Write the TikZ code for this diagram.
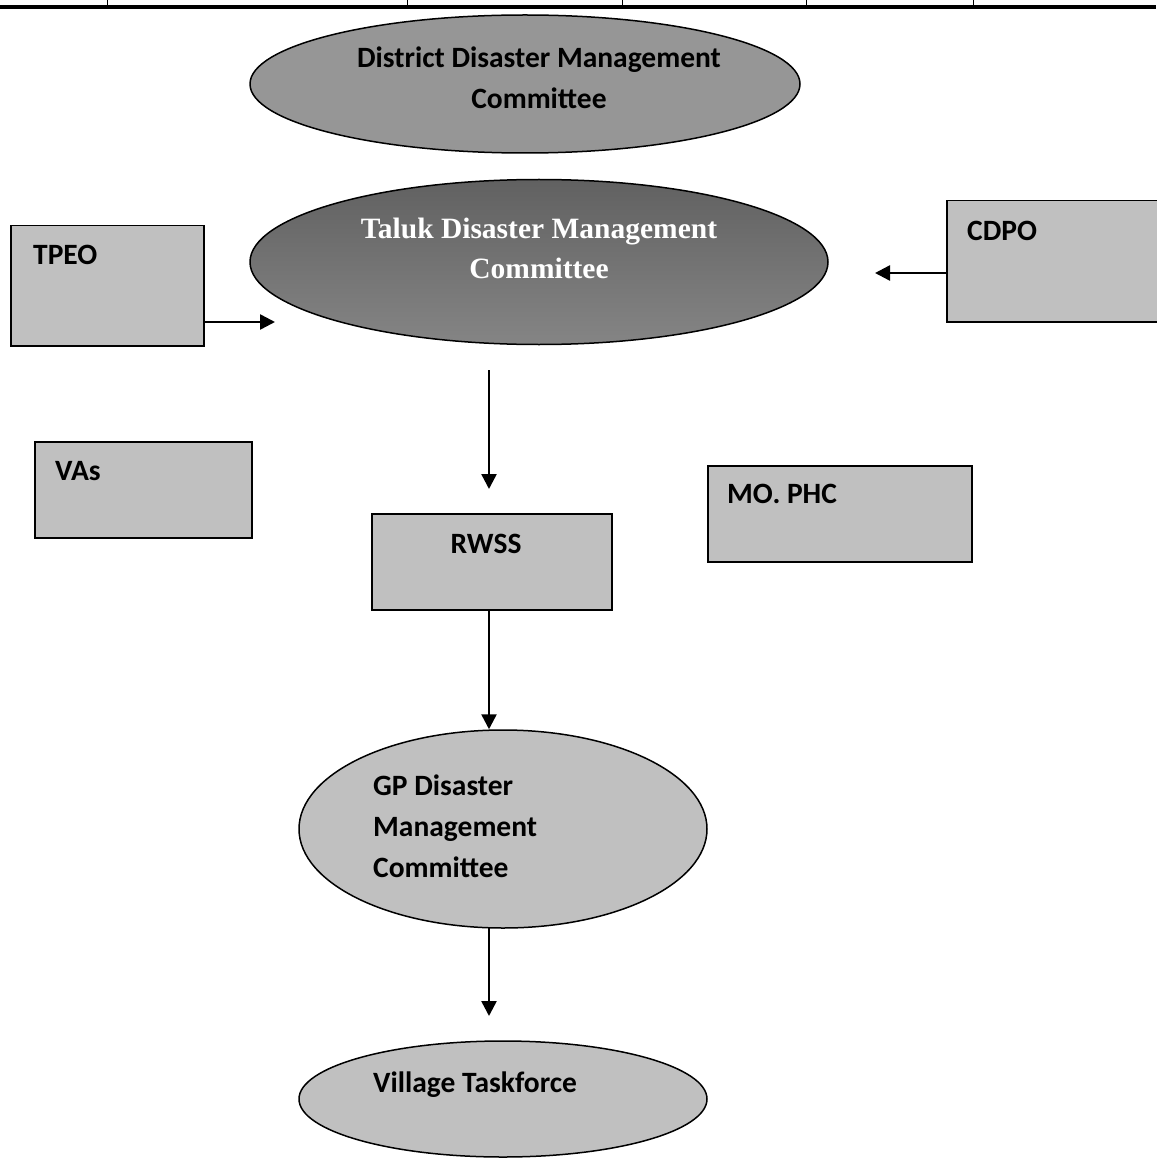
\documentclass[tikz,border=0pt]{standalone}
\usepackage{fontspec}
\setmainfont{Carlito}
\newfontfamily\tnr{Liberation Serif}
\usetikzlibrary{shapes.geometric,arrows.meta}
\definecolor{boxgray}{HTML}{C0C0C0}
\definecolor{distgray}{HTML}{969696}
\tikzset{
  ell/.style={ellipse, draw, line width=1.5pt, inner sep=0pt},
  box/.style={rectangle, draw, line width=1.5pt, fill=boxgray, inner sep=0pt, anchor=north west},
  lbl/.style={font=\bfseries\fontsize{29.5}{41}\selectfont, inner sep=0pt},
  arr/.style={line width=2.5pt, -{Triangle[length=15pt,width=15pt]}},
  tbl/.style={line width=1pt}
}
\begin{document}
\begin{tikzpicture}[x=1pt,y=-1pt]
\useasboundingbox[fill=white] (0,0) rectangle (1156,1158);
% table remnant
\draw[line width=3.5pt] (0,7) -- (1156,7);
\foreach \xx in {107,407,622,806,973} \draw[tbl] (\xx,-2) -- (\xx,7);
% ellipses
\node[ell, fill=distgray, minimum width=550pt, minimum height=138pt] (dist) at (525,84) {};
\node[ell, top color=black!62, bottom color=black!48, minimum width=578pt, minimum height=165pt] (taluk) at (539,262) {};
\node[ell, fill=boxgray, minimum width=408pt, minimum height=198pt] (gp) at (503,829) {};
\node[ell, fill=boxgray, minimum width=408pt, minimum height=116pt] (vill) at (503,1099) {};
% boxes
\node[box, minimum width=193pt, minimum height=120pt] (tpeo) at (10,225) {};
\node[box, minimum width=220pt, minimum height=121pt] (cdpo) at (946,200) {};
\node[box, minimum width=217pt, minimum height=96pt] (vas) at (34,441) {};
\node[box, minimum width=240pt, minimum height=96pt] (rwss) at (371,513) {};
\node[box, minimum width=264pt, minimum height=96pt] (mo) at (707,465) {};
% labels
\node[lbl, align=center] (distt) at (539,78) {District Disaster Management\\Committee};
\node[font=\tnr\bfseries\fontsize{29.5}{40}\selectfont, text=white, align=center, inner sep=0pt] (talukt) at (539,248) {Taluk Disaster Management\\Committee};
\node[lbl, anchor=west] (tpeot) at (33,255) {TPEO};
\node[lbl, anchor=west] (cdpot) at (967,231) {CDPO};
\node[lbl, anchor=west] (vast) at (55,471) {VAs};
\node[lbl] (rwsst) at (486,544) {RWSS};
\node[lbl, anchor=west] (mot) at (727,494) {MO. PHC};
\node[lbl, anchor=west, align=left] (gpt) at (373,826) {GP Disaster\\Management\\Committee};
\node[lbl, anchor=west] (villt) at (373,1085) {Village Taskforce};
% connectors
\coordinate (tpeoend) at (275,322);
\coordinate (cdpoend) at (875,273);
\coordinate (t1) at (489,370);
\coordinate (t2) at (489,489);
\coordinate (g2) at (489,928);
\coordinate (v1) at (489,1016);
\draw[arr] (tpeo.east |- tpeoend) -- (tpeoend);
\draw[arr] (cdpo.west |- cdpoend) -- (cdpoend);
\draw[arr] (t1) -- (t2);
\draw[arr] (rwss.south -| t1) -- (gp.north -| t1);
\draw[arr] (g2) -- (v1);
\end{tikzpicture}
\end{document}
